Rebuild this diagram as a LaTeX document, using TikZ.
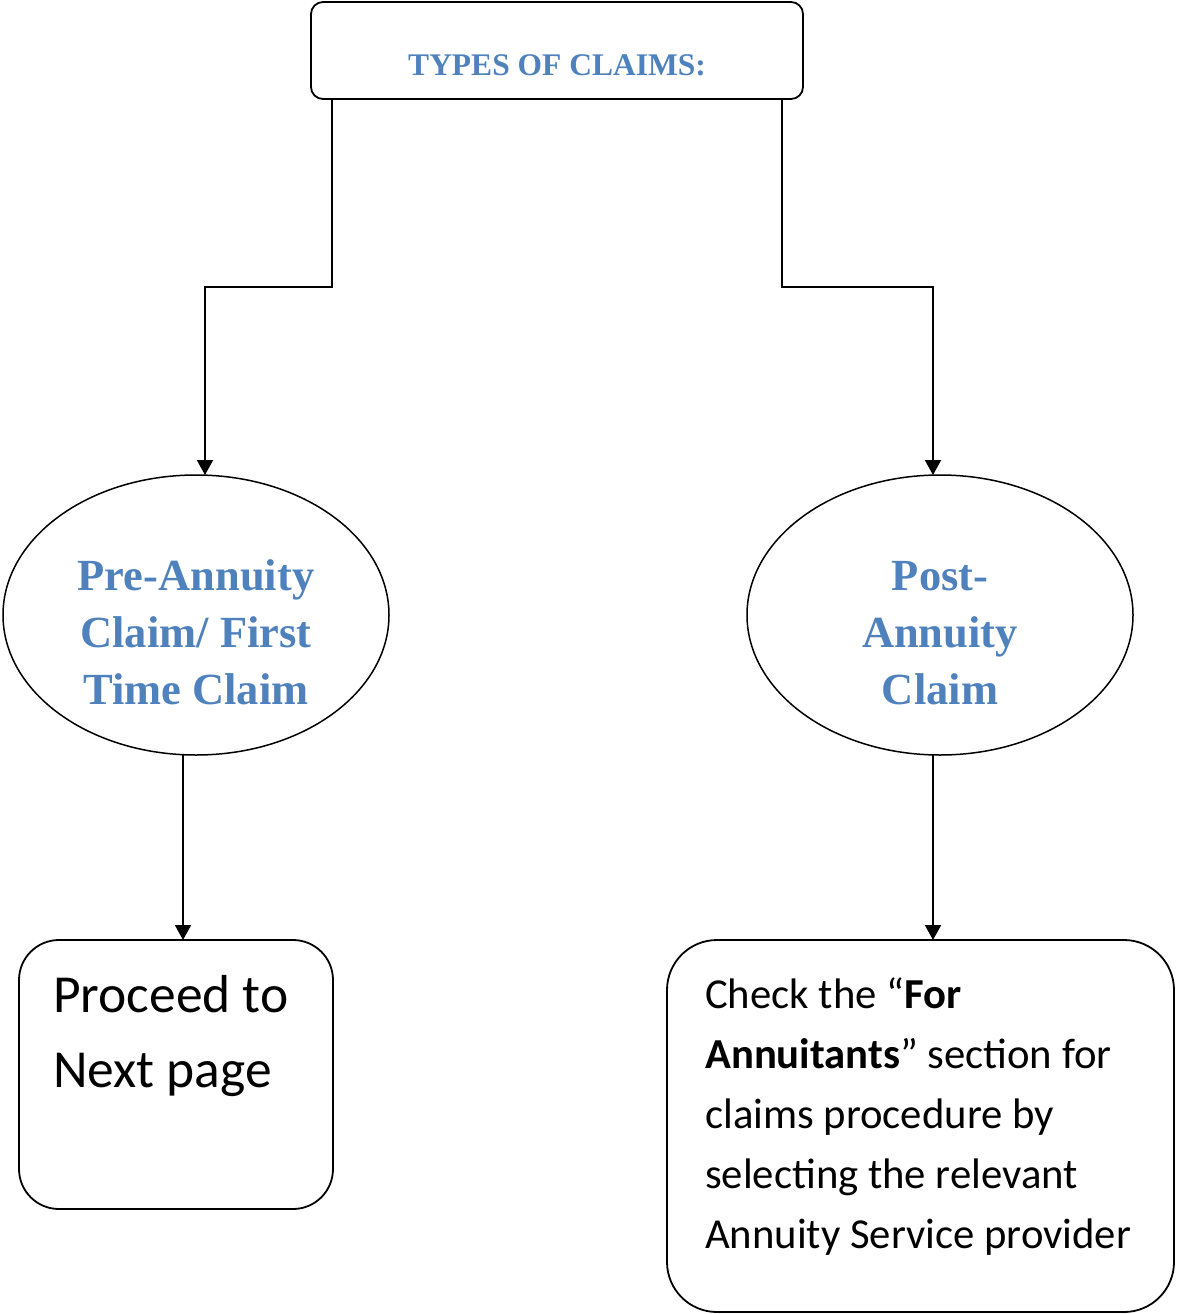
\documentclass[tikz,border=0pt]{standalone}
\usepackage{fontspec}
\setmainfont{Carlito}
\newfontfamily\serifb{Liberation Serif}
\usetikzlibrary{arrows.meta,shapes.geometric}
\definecolor{accent}{HTML}{4F81BD}
\begin{document}
\begin{tikzpicture}[x=1pt,y=-1pt,
  box/.style={draw=black,line width=1.8pt,rounded corners=#1,inner sep=0pt,outer sep=0pt},
  oval/.style={draw=black,line width=1.5pt,ellipse,inner sep=0pt,outer sep=0pt,minimum width=386pt,minimum height=280pt},
  conn/.style={draw=black,line width=2pt,-{Triangle[length=15pt,width=16pt]}},
  bluetxt/.style={text=accent,inner sep=0pt,font=\serifb\bfseries},
  blacktxt/.style={text=black,inner sep=0pt,anchor=base west}
]
\useasboundingbox (0,0) rectangle (1176,1314);
% title
\node[box=12pt,minimum width=492pt,minimum height=97pt] (title) at (557,50.5) {};
\node[text=accent,inner sep=0pt,anchor=base,font=\serifb\bfseries\fontsize{31.5}{36}\selectfont] (titletxt) at (557,75) {TYPES OF CLAIMS:};
% ellipses
\node[oval] (pre) at (196,615) {};
\node[oval] (post) at (940,615) {};
\node[bluetxt,anchor=base] (pretxt) at (196,590) {\fontsize{44.5}{57}\selectfont\begin{tabular}[t]{@{}c@{}}Pre-Annuity\\Claim/ First\\Time Claim\end{tabular}};
\node[bluetxt,anchor=base] (posttxt) at (940,590) {\fontsize{44.5}{57}\selectfont\begin{tabular}[t]{@{}c@{}}Post-\\Annuity\\Claim\end{tabular}};
% bottom boxes
\node[box=40pt,minimum width=314pt,minimum height=269pt] (proc) at (176,1074.5) {};
\node[box=50pt,minimum width=507pt,minimum height=372pt] (check) at (920.5,1126) {};
\node[blacktxt] (proctxt) at (53,1012) {\fontsize{53.5}{75}\selectfont\begin{tabular}[t]{@{}l@{}}Proceed to\\Next page\end{tabular}};
\node[blacktxt] (checktxt) at (705,1008) {\fontsize{42.7}{60}\selectfont\begin{tabular}[t]{@{}l@{}}Check the “\textbf{For}\\\textbf{Annuitants}” section for\\claims procedure by\\selecting the relevant\\Annuity Service provider\end{tabular}};
% connectors
\coordinate (lx) at (332,0);
\coordinate (rx) at (782,0);
\coordinate (la) at (205,0);
\coordinate (ra) at (933,0);
\coordinate (lb) at (183,0);
\draw[conn] (title.south -| lx) -- (332,287) -| (pre.north -| la);
\draw[conn] (title.south -| rx) -- (782,287) -| (post.north -| ra);
\draw[conn] (pre.south -| lb) -- (proc.north -| lb);
\draw[conn] (post.south -| ra) -- (check.north -| ra);
\end{tikzpicture}
\end{document}
